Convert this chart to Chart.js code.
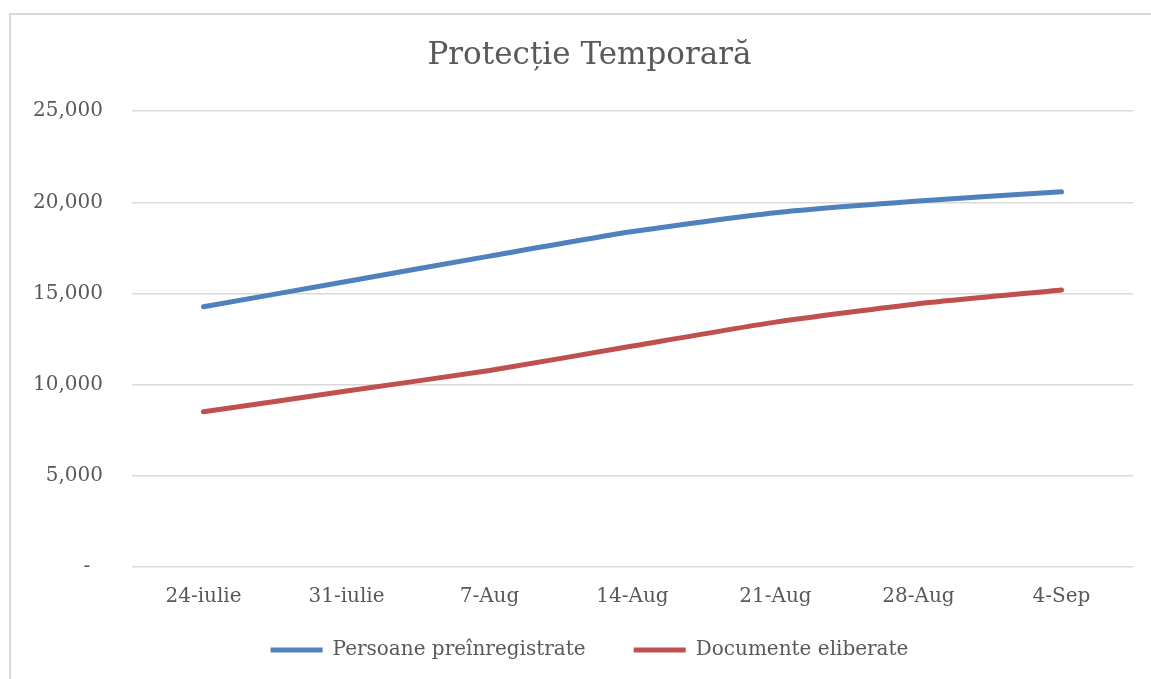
<!DOCTYPE html>
<html>
<head>
<meta charset="utf-8">
<script src="https://cdn.jsdelivr.net/npm/chart.js@4/dist/chart.umd.min.js"></script>
<style>
  html, body { margin: 0; padding: 0; background: #fff; }
  #wrap { position: absolute; left: 0; top: 0; width: 1151px; height: 679px; }
</style>
</head>
<body>
<div id="wrap"><canvas id="c" width="1151" height="679"></canvas></div>
<script>
const categories = ['24-iulie', '31-iulie', '7-Aug', '14-Aug', '21-Aug', '28-Aug', '4-Sep'];
const seriesNames = ['Persoane preînregistrate', 'Documente eliberate'];
const persoanePreinregistrate = [14270, 15660, 17050, 18400, 19430, 20070, 20580];
const documenteEliberate = [8510, 9650, 10780, 12120, 13430, 14440, 15190];
const yTicks = [0, 5000, 10000, 15000, 20000, 25000];
const titleText = 'Protecție Temporară';

const TEXT = '#595959';
const GRID = '#D9D9D9';
const SERIF = "'DejaVu Serif', 'Liberation Serif', serif";

const borderPlugin = {
  id: 'outerBorder',
  beforeDraw(chart) {
    const ctx = chart.ctx;
    ctx.save();
    ctx.strokeStyle = GRID;
    ctx.lineWidth = 2;
    ctx.beginPath();
    ctx.moveTo(10, 700);
    ctx.lineTo(10, 14);
    ctx.lineTo(1160, 14);
    ctx.stroke();
    ctx.restore();
  }
};

new Chart(document.getElementById('c'), {
  type: 'line',
  data: {
    labels: categories,
    datasets: [
      {
        label: seriesNames[0],
        data: persoanePreinregistrate,
        borderColor: '#4F81BD',
        backgroundColor: '#4F81BD',
        borderWidth: 5,
        pointRadius: 0,
        tension: 0.2,
        borderCapStyle: 'round',
        fill: false
      },
      {
        label: seriesNames[1],
        data: documenteEliberate,
        borderColor: '#C0504D',
        backgroundColor: '#C0504D',
        borderWidth: 5,
        pointRadius: 0,
        tension: 0.2,
        borderCapStyle: 'round',
        fill: false
      }
    ]
  },
  options: {
    responsive: false,
    animation: false,
    layout: { padding: { top: 13, left: 46, right: 18, bottom: 9 } },
    plugins: {
      title: {
        display: true,
        text: titleText,
        color: TEXT,
        font: { family: SERIF, size: 31, weight: 'normal' },
        padding: { top: 24, bottom: 37 }
      },
      legend: {
        position: 'bottom',
        labels: {
          color: TEXT,
          font: { family: SERIF, size: 20 },
          boxWidth: 52,
          boxHeight: 5,
          padding: 10,
          generateLabels(chart) {
            const items = Chart.defaults.plugins.legend.labels.generateLabels(chart);
            return items.map((l, i) => ({
              ...l,
              text: i < items.length - 1 ? l.text + '      ' : l.text,
              lineWidth: 0,
              fillStyle: l.strokeStyle
            }));
          }
        }
      },
      tooltip: { enabled: false }
    },
    scales: {
      x: {
        offset: true,
        grid: { display: false, drawTicks: false },
        border: { display: false },
        ticks: {
          color: TEXT,
          font: { family: SERIF, size: 20 },
          padding: 18,
          maxRotation: 0
        },
        afterFit(scale) { scale.height = 63; }
      },
      y: {
        min: 0,
        max: 25000,
        grid: { color: GRID, lineWidth: 1.5, drawTicks: false },
        border: { display: false },
        afterBuildTicks(scale) { scale.ticks = yTicks.map(v => ({ value: v })); },
        ticks: {
          color: TEXT,
          font: { family: SERIF, size: 20 },
          padding: 29,
          callback(v) { return v === 0 ? '-  ' : v.toLocaleString('en-US'); }
        },
        afterFit(scale) { scale.width = 86; },
        afterUpdate(scale) { scale._computeLabelArea = () => undefined; }
      }
    }
  },
  plugins: [borderPlugin]
});
</script>
</body>
</html>
